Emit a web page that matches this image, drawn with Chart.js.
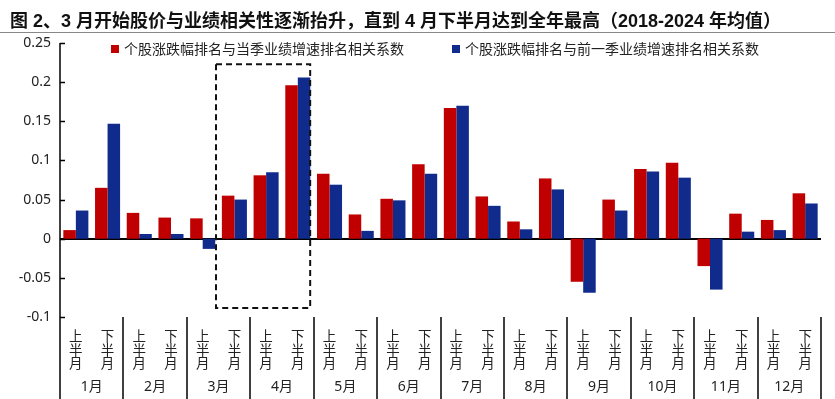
<!DOCTYPE html>
<html>
<head>
<meta charset="utf-8">
<script src="https://cdn.jsdelivr.net/npm/chart.js@4.4.1/dist/chart.umd.min.js"></script>
<style>
  body { margin: 0; background: #fff; }
  #wrap { position: relative; width: 835px; height: 399px; overflow: hidden; }
  #title {
    position: absolute; left: 10px; top: 6px; white-space: nowrap;
    font: bold 18px "Liberation Sans Narrow", "Liberation Sans", "Noto Sans CJK SC", sans-serif;
    color: #111;
  }
  #rule { position: absolute; left: 0; top: 32px; width: 835px; height: 1px; background: #888; }
  #myChart { position: absolute; left: 0; top: 0; }
  .leg {
    position: absolute; top: 38px; white-space: nowrap; line-height: 16px;
    font: 14px "Noto Sans CJK SC", sans-serif; color: #222;
  }
  .leg i { display: inline-block; width: 8px; height: 8px; margin-right: 5px; vertical-align: 1px; }
</style>
</head>
<body>
<div id="wrap">
  <canvas id="myChart" width="835" height="399"></canvas>
  <div id="title">图 2、3 月开始股价与业绩相关性逐渐抬升，直到 4 月下半月达到全年最高（2018-2024 年均值）</div>
  <div id="rule"></div>
</div>
<script>
const months = ['1月', '2月', '3月', '4月', '5月', '6月', '7月', '8月', '9月', '10月', '11月', '12月'];
const halves = [['上', '半', '月'], ['下', '半', '月']];
// correlation with current-quarter earnings growth rank
const currentQuarter = [0.011, 0.065, 0.033, 0.027, 0.026, 0.055, 0.081, 0.196, 0.083, 0.031, 0.051, 0.095,
                        0.167, 0.054, 0.022, 0.077, -0.055, 0.050, 0.089, 0.097, -0.035, 0.032, 0.024, 0.058];
// correlation with previous-quarter earnings growth rank
const previousQuarter = [0.036, 0.147, 0.006, 0.006, -0.013, 0.050, 0.085, 0.206, 0.069, 0.010, 0.049, 0.083,
                         0.170, 0.042, 0.012, 0.063, -0.069, 0.036, 0.086, 0.078, -0.065, 0.009, 0.011, 0.045];
const yTicks = [-0.1, -0.05, 0, 0.05, 0.1, 0.15, 0.2, 0.25];
const seriesNames = ['个股涨跌幅排名与当季业绩增速排名相关系数', '个股涨跌幅排名与前一季业绩增速排名相关系数'];
// highlighted range (category index / value) for the dashed box
const boxX = [4.42, 7.39];
const boxY = [-0.0885, 0.223];

const labels = [];
months.forEach(() => { labels.push(halves[0]); labels.push(halves[1]); });

const FONT = '"Noto Sans", "Noto Sans CJK SC", sans-serif';

// draws the y axis line, month separators, month names and the dashed box
const decorations = {
    id: 'decorations',
    afterDatasetsDraw(chart) {
        const { ctx, chartArea, scales } = chart;
        const x = scales.x, y = scales.y;
        ctx.save();
        ctx.strokeStyle = '#000';
        ctx.lineWidth = 1.5;
        ctx.beginPath();
        ctx.moveTo(chartArea.left, chartArea.top);
        ctx.lineTo(chartArea.left, chart.height);
        ctx.stroke();
        yTicks.forEach(v => {
            const py = Math.round(y.getPixelForValue(v)) + 0.5;
            ctx.beginPath();
            ctx.moveTo(chartArea.left, py);
            ctx.lineTo(chartArea.left + 5, py);
            ctx.stroke();
        });
        for (let i = 1; i <= months.length; i++) {
            const px = Math.round(x.getPixelForValue(2 * i - 0.5));
            ctx.beginPath();
            ctx.moveTo(px, chartArea.bottom);
            ctx.lineTo(px, chart.height);
            ctx.stroke();
        }
        ctx.fillStyle = '#222';
        ctx.font = '14px ' + FONT;
        ctx.textAlign = 'center';
        ctx.textBaseline = 'middle';
        months.forEach((m, i) => {
            ctx.fillText(m, x.getPixelForValue(2 * i + 0.5), 387);
        });
        // dashed highlight box
        ctx.setLineDash([6, 4]);
        ctx.lineWidth = 2;
        ctx.strokeStyle = '#111';
        const x0 = x.getPixelForValue(boxX[0]), x1 = x.getPixelForValue(boxX[1]);
        const y0 = y.getPixelForValue(boxY[1]), y1 = y.getPixelForValue(boxY[0]);
        ctx.strokeRect(x0, y0, x1 - x0, y1 - y0);
        ctx.restore();
    }
};

const chart = new Chart(document.getElementById('myChart').getContext('2d'), {
    type: 'bar',
    data: {
        labels: labels,
        datasets: [{
            label: seriesNames[0],
            data: currentQuarter,
            backgroundColor: '#C00000'
        }, {
            label: seriesNames[1],
            data: previousQuarter,
            backgroundColor: '#102B8C'
        }]
    },
    options: {
        responsive: false,
        animation: false,
        devicePixelRatio: 1,
        categoryPercentage: 0.79,
        barPercentage: 1.0,
        layout: { padding: { top: 43, right: 14, left: 0, bottom: 0 } },
        plugins: { legend: { display: false }, tooltip: { enabled: false } },
        scales: {
            x: {
                grid: { display: false },
                border: { display: false },
                ticks: {
                    autoSkip: false, maxRotation: 0, padding: 6, color: '#222',
                    font: { size: 13.5, family: FONT, lineHeight: 0.98 }
                },
                afterFit: s => { s.height = 82; }
            },
            y: {
                min: -0.1, max: 0.25,
                border: { display: false },
                grid: {
                    drawTicks: false,
                    lineWidth: 2,
                    color: c => (c.tick && Math.abs(c.tick.value) < 1e-9) ? '#000' : 'rgba(0,0,0,0)'
                },
                ticks: {
                    stepSize: 0.05, padding: 9, color: '#222',
                    font: { size: 14, family: FONT },
                    callback: v => String(+v.toFixed(2))
                },
                afterFit: s => { s.width = 60; }
            }
        }
    },
    plugins: [decorations]
});

// legend in the top of the plot, built from the datasets
const legendLeft = [111, 452];
chart.data.datasets.forEach((ds, i) => {
    const el = document.createElement('div');
    el.className = 'leg';
    el.style.left = legendLeft[i] + 'px';
    el.innerHTML = '<i style="background:' + ds.backgroundColor + '"></i>' + ds.label;
    document.getElementById('wrap').appendChild(el);
});
</script>
</body>
</html>
